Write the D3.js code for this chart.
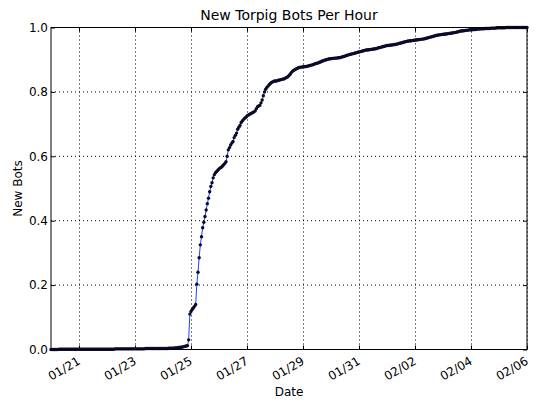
<!DOCTYPE html>
<html>
<head>
<meta charset="utf-8">
<script src="https://cdn.jsdelivr.net/npm/d3@7"></script>
<style>
  body { margin: 0; background: #fff; }
  text { font-family: "DejaVu Sans", sans-serif; fill: #000; }
</style>
</head>
<body>
<div id="plot"></div>
<script>
// hourly samples, first one at 2009-01-20 00:00 (UTC)
const startTime = Date.UTC(2009, 0, 20, 0);

// cumulative fraction of new bots, one value per hour (24 per row = one day)
const newBots = [
  0.000,0.000,0.000,0.000,0.000,0.000,0.000,0.001,0.001,0.001,0.001,0.001,0.001,0.001,0.001,0.001,0.001,0.001,0.001,0.001,0.001,0.001,0.001,0.001,
  0.001,0.001,0.001,0.001,0.001,0.001,0.001,0.001,0.001,0.001,0.001,0.001,0.001,0.001,0.001,0.001,0.001,0.001,0.001,0.001,0.001,0.001,0.001,0.001,
  0.001,0.001,0.001,0.001,0.001,0.001,0.001,0.002,0.002,0.002,0.002,0.002,0.002,0.002,0.002,0.002,0.002,0.002,0.002,0.002,0.002,0.002,0.002,0.002,
  0.002,0.002,0.002,0.002,0.002,0.002,0.002,0.002,0.002,0.003,0.003,0.003,0.003,0.003,0.003,0.003,0.003,0.003,0.003,0.003,0.003,0.003,0.003,0.003,
  0.003,0.003,0.003,0.003,0.003,0.004,0.004,0.004,0.004,0.004,0.005,0.005,0.005,0.006,0.006,0.007,0.007,0.008,0.009,0.010,0.011,0.012,0.030,0.110,
  0.118,0.124,0.129,0.134,0.140,0.203,0.240,0.285,0.325,0.350,0.378,0.395,0.413,0.433,0.453,0.470,0.490,0.506,0.518,0.533,0.543,0.549,0.553,0.557,
  0.561,0.564,0.566,0.570,0.574,0.578,0.583,0.600,0.620,0.627,0.635,0.641,0.646,0.658,0.665,0.672,0.684,0.690,0.696,0.705,0.710,0.714,0.718,0.721,
  0.725,0.728,0.730,0.732,0.734,0.736,0.738,0.741,0.748,0.754,0.756,0.758,0.766,0.775,0.788,0.800,0.808,0.814,0.818,0.822,0.826,0.829,0.831,0.833,
  0.834,0.834,0.835,0.836,0.837,0.838,0.839,0.840,0.841,0.843,0.845,0.847,0.851,0.855,0.860,0.864,0.867,0.869,0.871,0.873,0.875,0.876,0.877,0.877,
  0.878,0.878,0.879,0.879,0.880,0.881,0.882,0.883,0.884,0.885,0.887,0.888,0.889,0.890,0.892,0.893,0.895,0.896,0.898,0.899,0.900,0.901,0.902,0.903,
  0.903,0.904,0.904,0.905,0.905,0.905,0.906,0.906,0.907,0.908,0.909,0.910,0.911,0.913,0.914,0.915,0.916,0.917,0.918,0.919,0.920,0.921,0.922,0.923,
  0.924,0.925,0.926,0.927,0.928,0.929,0.930,0.930,0.931,0.931,0.932,0.932,0.933,0.933,0.934,0.935,0.936,0.937,0.938,0.939,0.940,0.941,0.942,0.943,
  0.944,0.944,0.945,0.945,0.946,0.946,0.947,0.947,0.948,0.949,0.950,0.951,0.952,0.953,0.954,0.955,0.956,0.957,0.958,0.958,0.959,0.959,0.960,0.960,
  0.961,0.961,0.962,0.962,0.963,0.963,0.964,0.964,0.965,0.966,0.967,0.968,0.969,0.970,0.971,0.972,0.973,0.974,0.975,0.976,0.977,0.977,0.978,0.978,
  0.979,0.979,0.980,0.980,0.981,0.981,0.982,0.982,0.983,0.984,0.984,0.985,0.986,0.987,0.988,0.989,0.989,0.990,0.990,0.991,0.991,0.992,0.992,0.993,
  0.993,0.993,0.994,0.994,0.994,0.995,0.995,0.995,0.996,0.996,0.996,0.996,0.997,0.997,0.997,0.997,0.997,0.998,0.998,0.998,0.998,0.998,0.999,0.999,
  0.999,0.999,0.999,0.999,0.999,0.999,1.000,1.000,1.000,1.000,1.000,1.000,1.000,1.000,1.000,1.000,1.000,1.000,1.000,1.000,1.000,1.000,1.000,1.000,
  1.000
];

const xTickDates = [
  [2009,0,21],[2009,0,23],[2009,0,25],[2009,0,27],[2009,0,29],[2009,0,31],
  [2009,1,2],[2009,1,4],[2009,1,6]
];
const xTickLabels = ["01/21","01/23","01/25","01/27","01/29","01/31","02/02","02/04","02/06"];
const yTicks = [0.0, 0.2, 0.4, 0.6, 0.8, 1.0];

window.addEventListener("load", main);

function main(){
  let [svgWidth, svgHeight] = [538, 400];
  let m = {left: 51, right: 11, top: 27.5, bottom: 50.5};
  let w = svgWidth - m.left - m.right;
  let h = svgHeight - m.top - m.bottom;

  let data = newBots.map((v, i) => ({date: new Date(startTime + i*3600*1000), value: v}));
  let tickDates = xTickDates.map(d => new Date(Date.UTC(d[0], d[1], d[2])));

  let svg = d3.select('#plot').append('svg')
    .attr('width', svgWidth)
    .attr('height', svgHeight);

  let xsc = d3.scaleUtc()
    .domain([new Date(Date.UTC(2009,0,20)), new Date(Date.UTC(2009,1,6))])
    .range([0, w]);
  let ysc = d3.scaleLinear().domain([0, 1]).range([h, 0]);

  let g = svg.append('g').attr('transform', `translate(${m.left},${m.top})`);

  // dotted grid
  g.append('g').selectAll('line').data(tickDates).join('line')
    .attr('x1', d => Math.round(xsc(d)) + 0.5).attr('x2', d => Math.round(xsc(d)) + 0.5)
    .attr('y1', 0).attr('y2', h)
    .attr('stroke', '#000').attr('stroke-width', 1).attr('stroke-dasharray', '1,3');
  g.append('g').selectAll('line').data(yTicks).join('line')
    .attr('x1', 0).attr('x2', w)
    .attr('y1', d => ysc(d)).attr('y2', d => ysc(d))
    .attr('stroke', '#000').attr('stroke-width', 1).attr('stroke-dasharray', '1,3');

  // axes with inward ticks
  let fmt = (d, i) => xTickLabels[i];
  let xAx = g.append('g').attr('transform', `translate(0,${h})`)
    .call(d3.axisBottom(xsc).tickValues(tickDates).tickFormat(fmt).tickSizeInner(-4).tickSizeOuter(0));
  // rotate each label about its right end, just below the tick
  xAx.selectAll('text')
    .attr('font-size', 12)
    .attr('text-anchor', 'end')
    .attr('x', 0).attr('y', 0).attr('dy', 0)
    .attr('transform', 'translate(1.7,14) rotate(-30)');
  g.append('g').call(d3.axisTop(xsc).tickValues(tickDates).tickFormat('').tickSizeInner(-4).tickSizeOuter(0));

  let yAx = g.append('g')
    .call(d3.axisLeft(ysc).tickValues(yTicks).tickFormat(d3.format('.1f')).tickSizeInner(-4).tickSizeOuter(0).tickPadding(3));
  yAx.selectAll('text').attr('font-size', 12);
  g.append('g').attr('transform', `translate(${w},0)`)
    .call(d3.axisRight(ysc).tickValues(yTicks).tickFormat('').tickSizeInner(-4).tickSizeOuter(0));

  g.selectAll('.domain').remove();
  g.selectAll('.tick line').attr('stroke', '#000');

  // the line and its hourly markers
  let line = d3.line().x(d => xsc(d.date)).y(d => ysc(d.value));
  g.append('path').datum(data)
    .attr('d', line)
    .attr('fill', 'none')
    .attr('stroke', '#1f3fff')
    .attr('stroke-width', 1);
  g.append('g').selectAll('circle').data(data).join('circle')
    .attr('cx', d => xsc(d.date))
    .attr('cy', d => ysc(d.value))
    .attr('r', 1.7)
    .attr('fill', '#0b0b2a');

  // frame
  g.append('rect').attr('x', 0).attr('y', 0).attr('width', w).attr('height', h)
    .attr('fill', 'none').attr('stroke', '#000').attr('stroke-width', 1);

  // labels
  svg.append('text').text('New Torpig Bots Per Hour')
    .attr('x', m.left + w/2).attr('y', 19.5)
    .attr('text-anchor', 'middle').attr('font-size', 14);
  svg.append('text').text('Date')
    .attr('x', m.left + w/2).attr('y', 396)
    .attr('text-anchor', 'middle').attr('font-size', 12);
  svg.append('text').text('New Bots')
    .attr('transform', `translate(22,${m.top + h/2}) rotate(-90)`)
    .attr('text-anchor', 'middle').attr('font-size', 12);
}
</script>
</body>
</html>
